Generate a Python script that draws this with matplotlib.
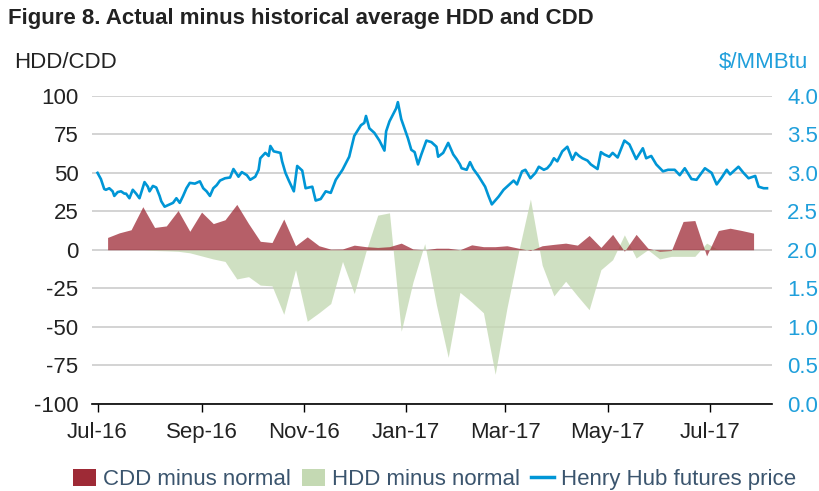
import matplotlib
matplotlib.use("Agg")
import matplotlib.pyplot as plt
import matplotlib.dates as mdates
from matplotlib.patches import Patch
from matplotlib.lines import Line2D
import pandas as pd

# weekly degree-day deviations (week points starting 2016-07-07)
week_start = "2016-07-07"
cdd_minus_normal = [
    8, 11, 13, 28, 14.5, 15.5, 25.5, 12, 24.5, 17, 19.5, 29.5, 17, 5.5,
    4.7, 20, 2.6, 8.4, 2.6, 0.4, 0.5, 3, 2, 1.5, 2, 4.3, 0.5, 0,
    1, 1, 0, 3.2, 2, 2, 2.6, 1, -0.5, 2.6, 3.5, 4.3, 3, 9.3,
    1.5, 10, -1, 10, 1, -1, -0.5, 18.4, 19, -4, 12.5, 14, 12.5, 10.8,
]
hdd_minus_normal = [
    0, 0, 0, 0, -0.5, -0.7, -1, -2, -4, -6, -7.6, -19, -17.5, -23,
    -23.5, -42, -13, -46.5, -41, -35, -7.6, -28.5, -1, 22.5, 24, -53, -21, 4,
    -36, -70, -27.7, -34, -41, -81, -38, -1, 33, -10, -30, -20.5, -30, -39,
    -13, -6.5, 9.7, -5.4, 0, -6, -4.3, -4.3, -4.3, 4.3, 0, 0, 0, 0,
]

# Henry Hub futures price, $/MMBtu
price_dates = [
    "2016-07-01", "2016-07-03", "2016-07-05", "2016-07-06", "2016-07-08", "2016-07-10",
    "2016-07-11", "2016-07-13", "2016-07-15", "2016-07-17", "2016-07-18", "2016-07-20",
    "2016-07-22", "2016-07-24", "2016-07-26", "2016-07-29", "2016-07-31", "2016-08-01",
    "2016-08-03", "2016-08-05", "2016-08-07", "2016-08-08", "2016-08-10", "2016-08-13",
    "2016-08-15", "2016-08-17", "2016-08-19", "2016-08-21", "2016-08-23", "2016-08-25",
    "2016-08-28", "2016-08-31", "2016-09-02", "2016-09-04", "2016-09-06", "2016-09-08",
    "2016-09-10", "2016-09-12", "2016-09-15", "2016-09-18", "2016-09-20", "2016-09-23",
    "2016-09-25", "2016-09-28", "2016-09-30", "2016-10-03", "2016-10-05", "2016-10-06",
    "2016-10-09", "2016-10-11", "2016-10-12", "2016-10-14", "2016-10-18", "2016-10-19",
    "2016-10-21", "2016-10-23", "2016-10-26", "2016-10-28", "2016-10-31", "2016-11-02",
    "2016-11-06", "2016-11-08", "2016-11-11", "2016-11-14", "2016-11-17", "2016-11-20",
    "2016-11-24", "2016-11-28", "2016-12-01", "2016-12-05", "2016-12-07", "2016-12-08",
    "2016-12-10", "2016-12-13", "2016-12-16", "2016-12-19", "2016-12-20", "2016-12-22",
    "2016-12-26", "2016-12-27", "2016-12-29", "2017-01-02", "2017-01-04", "2017-01-06",
    "2017-01-08", "2017-01-10", "2017-01-13", "2017-01-16", "2017-01-19", "2017-01-20",
    "2017-01-23", "2017-01-26", "2017-01-29", "2017-01-31", "2017-02-02", "2017-02-03",
    "2017-02-06", "2017-02-08", "2017-02-10", "2017-02-13", "2017-02-17", "2017-02-19",
    "2017-02-21", "2017-02-25", "2017-02-28", "2017-03-02", "2017-03-04", "2017-03-06",
    "2017-03-08", "2017-03-11", "2017-03-13", "2017-03-16", "2017-03-19", "2017-03-21",
    "2017-03-24", "2017-03-26", "2017-03-28", "2017-03-30", "2017-04-01", "2017-04-04",
    "2017-04-07", "2017-04-10", "2017-04-12", "2017-04-14", "2017-04-16", "2017-04-19",
    "2017-04-21", "2017-04-25", "2017-04-27", "2017-04-29", "2017-05-02", "2017-05-04",
    "2017-05-07", "2017-05-11", "2017-05-14", "2017-05-18", "2017-05-22", "2017-05-24",
    "2017-05-27", "2017-05-30", "2017-06-03", "2017-06-06", "2017-06-10", "2017-06-13",
    "2017-06-16", "2017-06-20", "2017-06-23", "2017-06-28", "2017-07-02", "2017-07-05",
    "2017-07-08", "2017-07-11", "2017-07-13", "2017-07-18", "2017-07-21", "2017-07-24",
    "2017-07-28", "2017-07-30", "2017-08-02", "2017-08-04",
]
price_values = [
    3.00, 2.92, 2.79, 2.78, 2.80, 2.76, 2.70, 2.75, 2.76, 2.73, 2.73, 2.67,
    2.78, 2.73, 2.67, 2.88, 2.82, 2.76, 2.83, 2.81, 2.70, 2.63, 2.56, 2.59,
    2.61, 2.67, 2.61, 2.70, 2.80, 2.87, 2.86, 2.89, 2.80, 2.76, 2.70, 2.80,
    2.84, 2.90, 2.93, 2.94, 3.05, 2.95, 3.01, 2.97, 2.91, 2.95, 3.04, 3.19,
    3.26, 3.22, 3.35, 3.28, 3.26, 3.15, 3.00, 2.90, 2.76, 3.09, 3.03, 2.80,
    2.82, 2.64, 2.66, 2.76, 2.74, 2.91, 3.04, 3.21, 3.48, 3.62, 3.65, 3.74,
    3.58, 3.52, 3.42, 3.29, 3.54, 3.67, 3.84, 3.92, 3.70, 3.45, 3.30, 3.27,
    3.11, 3.24, 3.42, 3.40, 3.34, 3.21, 3.26, 3.39, 3.24, 3.18, 3.11, 3.06,
    3.04, 3.14, 3.05, 2.96, 2.82, 2.70, 2.59, 2.69, 2.78, 2.82, 2.86, 2.90,
    2.85, 3.02, 3.04, 2.93, 3.00, 3.08, 3.04, 3.06, 3.11, 3.19, 3.15, 3.28,
    3.34, 3.17, 3.26, 3.22, 3.19, 3.16, 3.11, 3.05, 3.27, 3.24, 3.21, 3.26,
    3.20, 3.42, 3.37, 3.18, 3.32, 3.19, 3.22, 3.11, 3.02, 3.04, 3.04, 2.97,
    3.06, 2.92, 2.91, 3.06, 3.00, 2.85, 2.94, 3.04, 2.98, 3.08, 3.00, 2.93,
    2.96, 2.82, 2.80, 2.80,
]

left_ticks = [-100, -75, -50, -25, 0, 25, 50, 75, 100]
right_ticks = [0.0, 0.5, 1.0, 1.5, 2.0, 2.5, 3.0, 3.5, 4.0]

red = "#9e2a36"
green = "#c4d9b3"
blue = "#0096d6"
label_blue = "#1f9fdb"
legend_text = "#3b556e"

plt.rcParams["font.family"] = ["Liberation Sans", "DejaVu Sans"]
plt.rcParams["axes.unicode_minus"] = False

weeks = pd.date_range(week_start, periods=len(cdd_minus_normal), freq="7D")
pdates = pd.to_datetime(price_dates)

fig = plt.figure(figsize=(8.2, 4.91), dpi=100)
ax = fig.add_axes([0.1128, 0.1782, 0.8287, 0.6263])
ax2 = ax.twinx()

ax.fill_between(weeks, 0, hdd_minus_normal, color=green, alpha=0.8, lw=0, zorder=2)
ax.fill_between(weeks, 0, cdd_minus_normal, color=red, alpha=0.75, lw=0, zorder=3)
ax2.plot(pdates, price_values, color=blue, lw=1.9, zorder=4)

ax.set_ylim(-100, 100)
ax.set_yticks(left_ticks)
ax2.set_ylim(0, 4)
ax2.set_yticks(right_ticks)
ax2.set_yticklabels([f"{v:.1f}" for v in right_ticks])

ax.set_xlim(pd.Timestamp("2016-06-28"), pd.Timestamp("2017-08-07"))
ax.xaxis.set_major_locator(mdates.MonthLocator(bymonth=[1, 3, 5, 7, 9, 11]))
ax.xaxis.set_major_formatter(mdates.DateFormatter("%b-%y"))

ax.grid(axis="y", color="#c8c8c8", lw=1.1, zorder=0)
ax.set_axisbelow(True)
for a in (ax, ax2):
    for side in ("top", "left", "right", "bottom"):
        a.spines[side].set_visible(False)
ax.spines["bottom"].set_visible(True)
ax.spines["bottom"].set_color("black")
ax.spines["bottom"].set_linewidth(1.2)

ax.tick_params(axis="y", length=0, pad=10, labelsize=16, labelcolor="#222222")
ax.tick_params(axis="x", length=6, width=1, pad=7, labelsize=16, labelcolor="#222222")
ax2.tick_params(axis="y", length=0, pad=11, labelsize=16, labelcolor=label_blue)

fig.text(0.01, 0.962, "Figure 8. Actual minus historical average HDD and CDD",
         fontsize=16, fontweight="bold", color="#222222", va="center")
fig.text(0.017, 0.873, "HDD/CDD", fontsize=16, color="#222222", va="center")
fig.text(0.985, 0.873, "$/MMBtu", fontsize=16, color=label_blue, va="center", ha="right")

handles = [
    Patch(facecolor=red, edgecolor="none"),
    Patch(facecolor=green, edgecolor="none"),
    Line2D([0], [0], color=blue, lw=2.5),
]
labels = ["CDD minus normal", "HDD minus normal", "Henry Hub futures price"]
leg = fig.legend(handles, labels, loc="center", bbox_to_anchor=(0.53, 0.024), ncol=3,
                 frameon=False, fontsize=16, handlelength=1.05, handleheight=0.8,
                 handletextpad=0.3, columnspacing=0.5, borderaxespad=0)
for t in leg.get_texts():
    t.set_color(legend_text)

fig.savefig("out.png", dpi=100)
